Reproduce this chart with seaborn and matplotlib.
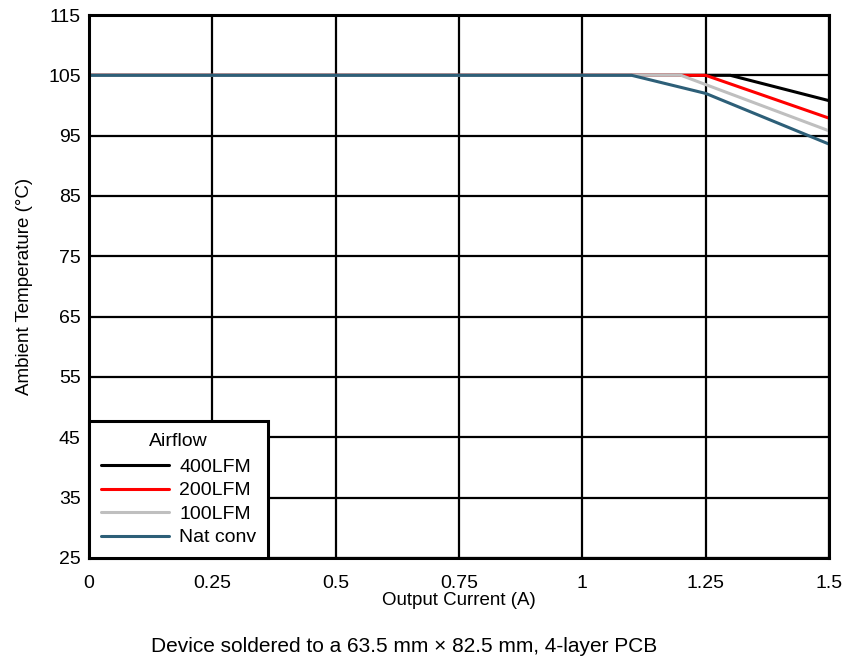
import numpy as np
import pandas as pd
import matplotlib
matplotlib.use("Agg")
import matplotlib.pyplot as plt
import seaborn as sns

# Derating curves: ambient temperature limit vs output current
series_names = ["400LFM", "200LFM", "100LFM", "Nat conv"]
current_400 = [0.0, 1.30, 1.50]
temp_400 = [105.0, 105.0, 100.8]
current_200 = [0.0, 1.25, 1.50]
temp_200 = [105.0, 105.0, 97.9]
current_100 = [0.0, 1.20, 1.50]
temp_100 = [105.0, 105.0, 95.8]
current_nat = [0.0, 1.10, 1.25, 1.50]
temp_nat = [105.0, 105.0, 102.0, 93.6]

x_ticks = [0, 0.25, 0.5, 0.75, 1, 1.25, 1.5]
x_tick_labels = ["0", "0.25", "0.5", "0.75", "1", "1.25", "1.5"]
y_ticks = [25, 35, 45, 55, 65, 75, 85, 95, 105, 115]

colors = ["#000000", "#ff0000", "#bfbfbf", "#2d5f78"]

frames = []
for name, xs, ys in zip(series_names,
                        [current_400, current_200, current_100, current_nat],
                        [temp_400, temp_200, temp_100, temp_nat]):
    frames.append(pd.DataFrame({"current": xs, "temp": ys, "Airflow": name}))
df = pd.concat(frames, ignore_index=True)

sns.set_theme(style="white")
plt.rcParams["font.family"] = ["Liberation Sans", "DejaVu Sans"]
plt.rcParams["text.color"] = "black"

fig = plt.figure(figsize=(8.46, 6.58), dpi=100)
ax = fig.add_axes([0.1052, 0.152, 0.8748, 0.8252])

sns.lineplot(data=df, x="current", y="temp", hue="Airflow",
             hue_order=series_names, palette=colors, linewidth=2.2,
             sort=False, estimator=None, ax=ax)

ax.set_xlim(0, 1.5)
ax.set_ylim(25, 115)
ax.set_xticks(x_ticks)
ax.set_xticklabels(x_tick_labels)
ax.set_yticks(y_ticks)
ax.grid(True, color="black", linewidth=1.6)
ax.set_axisbelow(True)
for s in ax.spines.values():
    s.set_color("black")
    s.set_linewidth(2.2)
ax.tick_params(axis="both", length=0, labelsize=14, colors="black")
ax.tick_params(axis="x", pad=12)
ax.tick_params(axis="y", pad=6)
ax.set_xlabel("Output Current (A)", fontsize=13.5, color="black", labelpad=0)
ax.set_ylabel("Ambient Temperature (°C)", fontsize=13.5, color="black", labelpad=11)

leg = ax.legend(title="Airflow", loc="lower left", borderaxespad=0,
                fontsize=14, title_fontsize=14, handlelength=3.5,
                handletextpad=0.55, labelspacing=0.3, borderpad=0.6,
                fancybox=False, framealpha=1, labelcolor="black")
leg.get_title().set_color("black")
leg._legend_box.sep = 6
leg.get_frame().set_edgecolor("black")
leg.get_frame().set_linewidth(2.2)
for line in leg.get_lines():
    line.set_linewidth(2.2)

fig.text(0.4775, 0.003, "Device soldered to a 63.5 mm × 82.5 mm, 4-layer PCB",
         ha="center", va="bottom", fontsize=15, color="black")

fig.savefig("out.png", dpi=100)
